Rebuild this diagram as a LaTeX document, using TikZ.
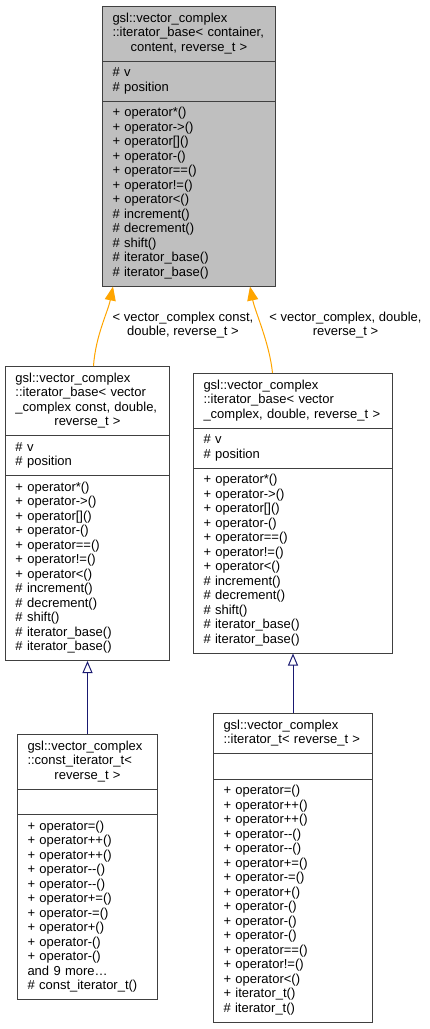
\documentclass[tikz,border=0pt]{standalone}
\usepackage{fontspec}
\setmainfont{Liberation Sans}
\usepackage{tikz}
\usetikzlibrary{shapes.multipart,arrows.meta}
\definecolor{boxline}{HTML}{404040}
\definecolor{boxgray}{HTML}{BFBFBF}
\definecolor{tmplorange}{HTML}{FFA500}
\definecolor{inheritblue}{HTML}{191970}

\begin{document}
\begin{tikzpicture}[x=1pt,y=-1pt,
	font=\fontsize{13}{14.5}\selectfont,
	classbox/.style={rectangle split, rectangle split parts=3, draw=boxline, line width=1pt,
		anchor=north west, align=left, inner xsep=10pt, inner ysep=5pt},
	templ/.style={draw=tmplorange, line width=1pt, -{Triangle[length=14pt,width=11pt,fill=tmplorange]}},
	inherit/.style={draw=inheritblue, line width=1pt, -{Triangle[open,length=12pt,width=10pt]}}]
	\useasboundingbox (0,0) rectangle (429,1029);
	% template base
	\node[classbox, fill=boxgray, text width=153pt] (base) at (102,6)
		{\strut gsl::vector\_complex\\ ::iterator\_base<~container,\\ \hspace*{\fill}content,~reverse\_t~>\hspace*{\fill}\strut
		\nodepart{two}\strut\# v\\ \# position\strut
		\nodepart{three}\strut+ operator*()\\ + operator->()\\ + operator[]()\\ + operator-()\\ + operator==()\\ + operator!=()\\ + operator<()\\
		\# increment()\\ \# decrement()\\ \# shift()\\ \# iterator\_base()\\ \# iterator\_base()\strut};
	% instances
	\node[classbox, text width=144pt] (cbase) at (5,366)
		{\strut gsl::vector\_complex\\ ::iterator\_base<~vector\\ \_complex~const,~double,\\ \hspace*{\fill}reverse\_t~>\hspace*{\fill}\strut
		\nodepart{two}\strut\# v\\ \# position\strut
		\nodepart{three}\strut+ operator*()\\ + operator->()\\ + operator[]()\\ + operator-()\\ + operator==()\\ + operator!=()\\ + operator<()\\
		\# increment()\\ \# decrement()\\ \# shift()\\ \# iterator\_base()\\ \# iterator\_base()\strut};
	\node[classbox, text width=179pt] (vbase) at (193,373)
		{\strut gsl::vector\_complex\\ ::iterator\_base<~vector\\ \_complex,~double,~reverse\_t~>\strut
		\nodepart{two}\strut\# v\\ \# position\strut
		\nodepart{three}\strut+ operator*()\\ + operator->()\\ + operator[]()\\ + operator-()\\ + operator==()\\ + operator!=()\\ + operator<()\\
		\# increment()\\ \# decrement()\\ \# shift()\\ \# iterator\_base()\\ \# iterator\_base()\strut};
	% derived iterators
	\node[classbox, text width=120pt] (citer) at (17,734)
		{\strut gsl::vector\_complex\\ ::const\_iterator\_t<\\ \hspace*{\fill}reverse\_t~>\hspace*{\fill}\strut
		\nodepart{two}\strut
		\nodepart{three}\strut+ operator=()\\ + operator++()\\ + operator++()\\ + operator-{}-()\\ + operator-{}-()\\ + operator+=()\\ + operator-=()\\
		+ operator+()\\ + operator-()\\ + operator-()\\ and 9 more\dots\\ \# const\_iterator\_t()\strut};
	\node[classbox, text width=139pt] (iter) at (213,713)
		{\strut gsl::vector\_complex\\ ::iterator\_t<~reverse\_t~>\strut
		\nodepart{two}\strut
		\nodepart{three}\strut+ operator=()\\ + operator++()\\ + operator++()\\ + operator-{}-()\\ + operator-{}-()\\ + operator+=()\\ + operator-=()\\
		+ operator+()\\ + operator-()\\ + operator-()\\ + operator-()\\ + operator==()\\ + operator!=()\\ + operator<()\\
		+ iterator\_t()\\ \# iterator\_t()\strut};
	% connectors
	\draw[templ] ([xshift=6pt]cbase.north) .. controls +(2,-30) and +(-5,25) .. ([xshift=11pt]base.south west);
	\draw[templ] ([xshift=-20.5pt]vbase.north) .. controls +(-3,-30) and +(5,25) .. ([xshift=-26pt]base.south east);
	\node[align=center] (lblc) at (183,325) {< vector\_complex const,\\ double, reverse\_t >};
	\node[align=center] (lblv) at (345.5,325) {< vector\_complex, double,\\ reverse\_t >};
	\draw[inherit] (citer.north) -- (cbase.south);
	\draw[inherit] (iter.north) -- (vbase.south);
\end{tikzpicture}
\end{document}
